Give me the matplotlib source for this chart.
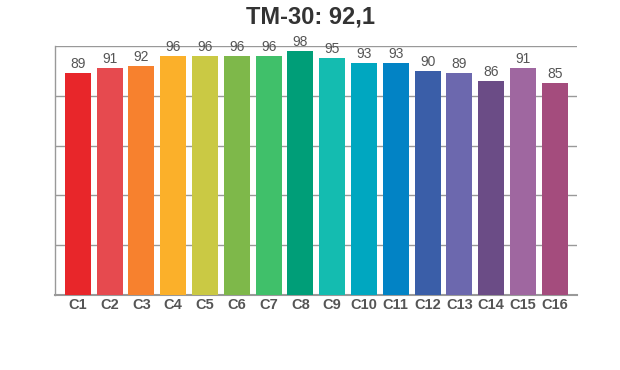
import matplotlib
matplotlib.use("Agg")
import matplotlib.pyplot as plt

categories = ["C1", "C2", "C3", "C4", "C5", "C6", "C7", "C8",
              "C9", "C10", "C11", "C12", "C13", "C14", "C15", "C16"]
values = [89, 91, 92, 96, 96, 96, 96, 98, 95, 93, 93, 90, 89, 86, 91, 85]
colors = ["#E8262A", "#E64A4F", "#F7812E", "#FBB02A", "#CAC944", "#7EB84A",
          "#40C06A", "#009E78", "#14BCB0", "#00A7C0", "#0283C5", "#3A5EA8",
          "#6C68AE", "#6B4C86", "#9F67A0", "#A44C7D"]
title = "TM-30: 92,1"

plt.rcParams['font.family'] = ['Liberation Sans', 'DejaVu Sans']

fig = plt.figure(figsize=(6.2, 3.7), dpi=100)
ax = fig.add_axes([0.0887, 0.2027, 0.8419, 0.673])

x = list(range(len(categories)))
bars = ax.bar(x, values, width=0.82, color=colors, zorder=3)
for xi, v in zip(x, values):
    ax.text(xi, v + 0.8, str(v), ha='center', va='bottom', fontsize=10,
            color='#555555', zorder=4)

ax.set_xlim(-0.72, 15.7)
ax.set_ylim(0, 100)
ax.set_yticks([0, 20, 40, 60, 80, 100])
ax.yaxis.grid(True, color='#999999', linewidth=1.0, zorder=0)
ax.set_yticklabels([])
ax.tick_params(axis='y', length=0)
ax.set_xticks(x)
ax.set_xticklabels(categories, fontsize=10.5, fontweight='bold', color='#555555')
ax.tick_params(axis='x', length=0, pad=2)

for s in ['top', 'right']:
    ax.spines[s].set_visible(False)
ax.spines['left'].set_color('#999999')
ax.spines['left'].set_linewidth(1.0)
ax.spines['bottom'].set_color('#999999')
ax.spines['bottom'].set_linewidth(1.5)

fig.text(0.5, 0.953, title, ha='center', va='center', fontsize=17,
         fontweight='bold', color='#333333')

fig.savefig("out.png", dpi=100)
